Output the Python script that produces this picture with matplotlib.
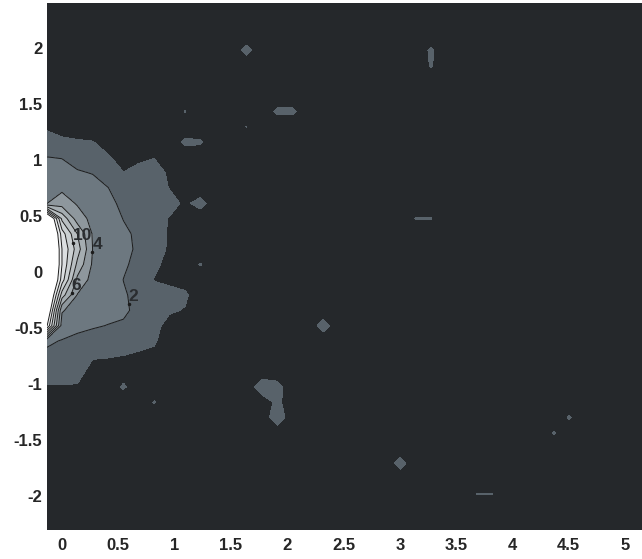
import numpy as np
import matplotlib.pyplot as plt

plt.rcParams['font.family'] = ['Liberation Sans', 'DejaVu Sans']
plt.rcParams['font.weight'] = 'bold'
plt.rcParams['axes.unicode_minus'] = False

# field grid, same step in x and y
step = 0.1365
x = step * np.arange(-1, 39)
y = 0.068 + step * np.arange(-18, 19)
background = 0.5

# values near the source: one list per column (x = -0.1365 ... 1.2285),
# each list runs from y = 1.433 down to y = -1.1605
source_cols = [
    [0.6, 0.9, 1.3, 2.02, 2.7, 3.3, 3.95, 22, 24, 25, 25, 24, 22, 20, 16.5, 2.3, 1.6, 1.3, 0.95, 0.7],
    [0.55, 0.8, 1.1, 1.95, 2.5, 3.6, 5.0, 9.5, 13, 14, 14, 13, 9, 4.2, 3.0, 1.9, 1.5, 1.25, 0.95, 0.7],
    [0.55, 0.75, 1.05, 1.6, 2.1, 2.9, 3.8, 5.0, 8, 9, 7.5, 5.5, 3.9, 3.0, 2.3, 1.7, 1.4, 1.2, 0.95, 0.65],
    [0.5, 0.7, 1.02, 1.5, 1.95, 2.4, 2.9, 3.4, 3.8, 3.95, 3.7, 3.3, 2.9, 2.5, 2.1, 1.6, 1.05, 0.8, 0.65, 0.55],
    [0.5, 0.6, 0.8, 1.05, 1.5, 2.02, 2.4, 2.8, 3.1, 3.2, 3.1, 2.9, 2.6, 2.3, 1.97, 1.4, 1.03, 0.75, 0.6, 0.5],
    [0.5, 0.55, 0.65, 0.8, 1.01, 1.35, 1.65, 1.95, 2.3, 2.4, 2.2, 1.98, 2.15, 2.2, 1.85, 1.35, 0.98, 0.7, 1.1, 0.5],
    [0.5, 0.55, 0.65, 0.9, 1.15, 1.3, 1.45, 1.6, 1.7, 1.75, 1.6, 1.45, 1.6, 1.7, 1.5, 1.2, 0.9, 0.65, 0.55, 0.5],
    [0.5, 0.5, 0.6, 0.98, 1.25, 1.35, 1.35, 1.3, 1.3, 1.25, 1.1, 0.98, 1.2, 1.3, 1.25, 1.1, 0.8, 0.6, 0.5, 1.05],
    [0.5, 0.5, 0.5, 0.6, 0.9, 0.97, 1.3, 0.95, 0.93, 0.92, 0.85, 0.8, 1.3, 1.1, 0.7, 0.55, 0.5, 0.5, 0.5, 0.5],
    [1.03, 0.5, 1.15, 0.55, 0.6, 0.65, 0.85, 0.7, 0.65, 0.6, 0.6, 0.65, 1.15, 0.95, 0.55, 0.5, 0.5, 0.5, 0.5, 0.5],
    [0.5, 0.5, 1.1, 0.5, 0.5, 0.5, 1.3, 0.5, 0.5, 0.5, 1.05, 0.5, 0.5, 0.5, 0.5, 0.5, 0.5, 0.5, 0.5, 0.5],
]

# weak isolated spots further out
spot_x = [1.65, 3.29, 3.29, 1.91, 2.05, 1.64, 3.14, 3.28, 2.31,
          1.77, 1.91, 1.91, 1.91, 3.0, 3.69, 3.82, 4.5, 4.37]
spot_y = [1.98, 1.84, 1.98, 1.43, 1.43, 1.30, 0.48, 0.48, -0.48,
          -1.02, -1.02, -1.16, -1.30, -1.71, -1.98, -1.98, -1.30, -1.43]
spot_v = [1.25, 1.06, 1.12, 1.15, 1.15, 1.02, 1.03, 1.03, 1.35,
          1.5, 1.3, 1.2, 1.5, 1.3, 1.02, 1.02, 1.08, 1.05]

fill_levels = [0, 1, 2, 4, 6, 8, 10, 12, 14, 16, 30]
fill_colors = ['#25282b', '#58626a', '#6d7880', '#8e979d', '#a5adb1',
               '#b9bfc2', '#cbd0d2', '#dcdfe1', '#eceeef', '#ffffff']
label_levels = [2, 4, 6, 10]
plain_levels = [8, 12, 14, 16]
label_pos = [(0.6, -0.28), (0.28, 0.18), (0.06, -0.18), (0.06, 0.25)]

Z = np.full((len(y), len(x)), background)
top = np.argmin(abs(y - 1.433))
for c, col in enumerate(source_cols):
    for r, v in enumerate(col):
        Z[top - r, c] = v
for sx, sy, sv in zip(spot_x, spot_y, spot_v):
    Z[np.argmin(abs(y - sy)), np.argmin(abs(x - sx))] = sv

fig = plt.figure(figsize=(6.42, 5.59), dpi=100)
ax = fig.add_axes([46.6 / 642, 29 / 559, 1 - 46.6 / 642, 527 / 559])

ax.contourf(x, y, Z, levels=fill_levels, colors=fill_colors)
ax.contour(x, y, Z, levels=plain_levels, colors='#1c1c1c', linewidths=0.7)
cs = ax.contour(x, y, Z, levels=label_levels, colors='#1c1c1c', linewidths=0.7)
texts = ax.clabel(cs, manual=label_pos, fmt='%d', fontsize=12.5,
                  colors='#2a2d30', inline=False)
# matlab-like labels: small dot on the line, upright text beside it
for t in texts:
    lx, ly = t.get_position()
    ax.plot(lx, ly, '.', ms=3, color='#1c1c1c')
    t.set_rotation(0)
    t.set_ha('left')
    t.set_va('bottom')

ax.set_xlim(-0.1365, 5.15)
ax.set_ylim(-2.3, 2.4)
ax.set_xticks(np.arange(0, 5.01, 0.5))
ax.set_yticks(np.arange(-2, 2.01, 0.5))
ax.set_xticklabels(['%g' % v for v in np.arange(0, 5.01, 0.5)])
ax.set_yticklabels(['%g' % v for v in np.arange(-2, 2.01, 0.5)])
ax.tick_params(length=0, labelsize=12, labelcolor='#262626')
ax.tick_params(axis='x', pad=6)
ax.tick_params(axis='y', pad=3)
for s in ax.spines.values():
    s.set_visible(False)

fig.savefig('out.png', dpi=100)
